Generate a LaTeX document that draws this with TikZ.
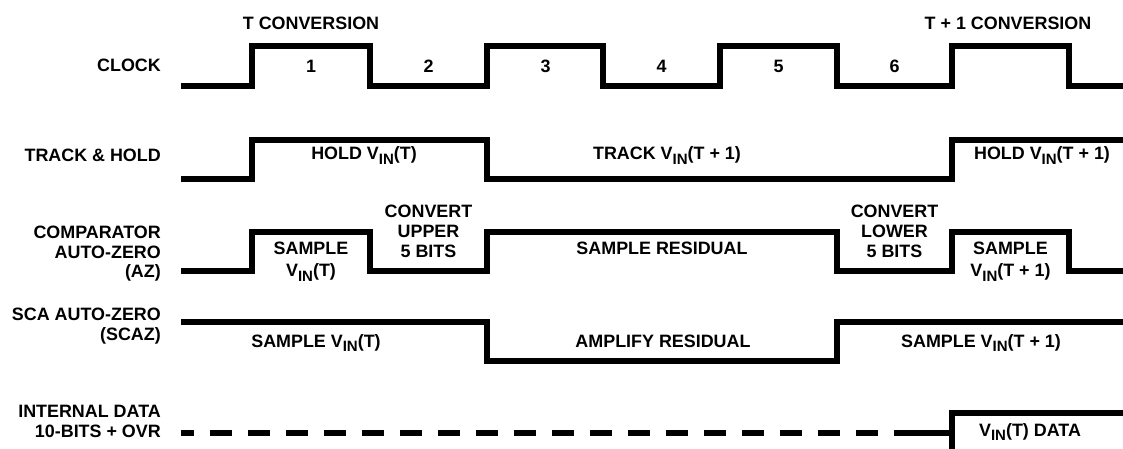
\documentclass[tikz,border=0pt]{standalone}
\usepackage{fontspec}
\setmainfont{Liberation Sans}
\newcommand\vin{V\raisebox{-4.5pt}{\fontsize{15}{15}\selectfont IN}}
\begin{document}
\begin{tikzpicture}[x=1pt,y=-1pt,
  wave/.style={line width=6pt, line join=miter, line cap=butt, black},
  txt/.style={font=\bfseries\fontsize{17.9}{20}\selectfont, inner sep=0pt, anchor=base},
  lbl/.style={txt, anchor=base east}]
\fill[white] (0,0) rectangle (1123,449);
\useasboundingbox (0,0) rectangle (1123,449);
% conversion headings
\node[txt] (tconv) at (311,29.5) {T CONVERSION};
\node[txt] (t1conv) at (1008,29.5) {T + 1 CONVERSION};
% row labels
\node[lbl] (lclk) at (161,72) {CLOCK};
\node[lbl] (lth) at (161,162) {TRACK \& HOLD};
\node[lbl] (laz1) at (161,238) {COMPARATOR};
\node[lbl] (laz2) at (161,258) {AUTO-ZERO};
\node[lbl] (laz3) at (161,277) {(AZ)};
\node[lbl] (lsc1) at (161,320.5) {SCA AUTO-ZERO};
\node[lbl] (lsc2) at (161,340) {(SCAZ)};
\node[lbl] (ldat1) at (161,417) {INTERNAL DATA};
\node[lbl] (ldat2) at (161,437) {10-BITS + OVR};
% clock
\draw[wave] (181,86) -- (252,86) -- (252,46) -- (370,46) -- (370,86) -- (487,86) -- (487,46) -- (603,46) -- (603,86) -- (720,86) -- (720,46) -- (837,46) -- (837,86) -- (952,86) -- (952,46) -- (1069,46) -- (1069,86) -- (1126,86);
\node[txt] (c1) at (311,73) {1};
\node[txt] (c2) at (428.5,73) {2};
\node[txt] (c3) at (545.5,73) {3};
\node[txt] (c4) at (661.5,73) {4};
\node[txt] (c5) at (778.5,73) {5};
\node[txt] (c6) at (894.5,73) {6};
% track & hold
\draw[wave] (181,179) -- (252,179) -- (252,140) -- (487,140) -- (487,179) -- (952,179) -- (952,140) -- (1126,140);
\node[txt] (th1) at (364,160) {HOLD \vin(T)};
\node[txt] (th2) at (667,160) {TRACK \vin(T + 1)};
\node[txt] (th3) at (1042,160) {HOLD \vin(T + 1)};
% comparator auto-zero
\draw[wave] (181,271) -- (252,271) -- (252,232) -- (370,232) -- (370,271) -- (487,271) -- (487,232) -- (837,232) -- (837,271) -- (952,271) -- (952,232) -- (1069,232) -- (1069,271) -- (1126,271);
\node[txt] (az1a) at (311,254.5) {SAMPLE};
\node[txt] (az1b) at (311,276.5) {\vin(T)};
\node[txt] (az2a) at (428.5,217) {CONVERT};
\node[txt] (az2b) at (428.5,237) {UPPER};
\node[txt] (az2c) at (428.5,257) {5 BITS};
\node[txt] (az3) at (662,254.5) {SAMPLE RESIDUAL};
\node[txt] (az4a) at (894.5,217) {CONVERT};
\node[txt] (az4b) at (894.5,237) {LOWER};
\node[txt] (az4c) at (894.5,257) {5 BITS};
\node[txt] (az5a) at (1010.5,254.5) {SAMPLE};
\node[txt] (az5b) at (1010.5,276.5) {\vin(T + 1)};
% SCA auto-zero
\draw[wave] (181,322) -- (487,322) -- (487,361) -- (837,361) -- (837,322) -- (1126,322);
\node[txt] (sc1) at (316,347) {SAMPLE \vin(T)};
\node[txt] (sc2) at (663,347) {AMPLIFY RESIDUAL};
\node[txt] (sc3) at (981,347) {SAMPLE \vin(T + 1)};
% internal data
\draw[wave, dash pattern=on 22pt off 16pt, dash phase=9pt] (181,433) -- (905,433);
\draw[wave] (903,433) -- (952,433);
\draw[wave] (952,455) -- (952,413) -- (1126,413);
\node[txt] (dat) at (1030,436) {\vin(T) DATA};
\end{tikzpicture}
\end{document}
